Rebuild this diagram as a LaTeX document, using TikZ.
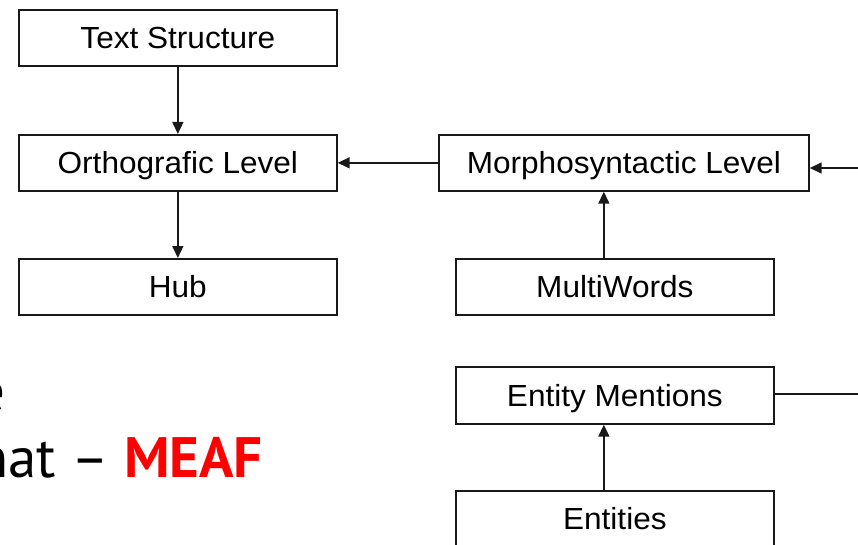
\documentclass[tikz,border=0pt]{standalone}
\usepackage{fontspec}
\setmainfont{Liberation Sans}
\newfontfamily\boxfont[FakeStretch=1.035]{Liberation Sans}
\newfontfamily\bigfont{PT Sans}
\usetikzlibrary{arrows.meta}
\definecolor{boxline}{RGB}{25,25,25}
\definecolor{meafred}{RGB}{255,0,0}
\begin{document}
\begin{tikzpicture}[x=1pt,y=-1pt,
  box/.style={draw=boxline,line width=1.7pt,inner sep=0pt,anchor=north west,
    minimum height=56pt,text height=22pt,text depth=0pt,
    font=\boxfont\fontsize{30.5}{34}\selectfont,text=black},
  conn/.style={draw=boxline,line width=1.5pt,-{Triangle[length=12pt,width=11pt]}},
  plainline/.style={draw=boxline,line width=1.5pt},
  bigtext/.style={font=\bigfont\fontsize{57}{62}\selectfont,inner sep=0pt,anchor=base east}]
\useasboundingbox (0,0) rectangle (858,545);
\clip (0,0) rectangle (858,545);
\fill[white] (0,0) rectangle (858,545);
% left column
\node[box,minimum width=318pt] (ts) at (18,9) {Text Structure};
\node[box,minimum width=318pt] (ol) at (18,134) {Orthografic Level};
\node[box,minimum width=318pt] (hub) at (18,258) {Hub};
% right column
\node[box,minimum width=370pt] (ms) at (438,134) {Morphosyntactic Level};
\node[box,minimum width=318pt] (mw) at (455,258) {MultiWords};
\node[box,minimum width=318pt,minimum height=57pt] (em) at (455,366) {Entity Mentions};
\node[box,minimum width=318pt] (ent) at (455,490) {Entities};
% off-picture ends
\coordinate (inR) at (864,168);
\coordinate (outR) at (864,394);
% connectors
\draw[conn] (ts.south) -- (ol.north);
\draw[conn] (ol.south) -- (hub.north);
\draw[conn] (ms.west) -- (ol.east);
\draw[conn] (inR) -- (inR -| ms.east);
\draw[conn] ([xshift=-11pt]mw.north) -- ([xshift=-11pt]mw.north |- ms.south);
\draw[conn] ([xshift=-11pt]ent.north) -- ([xshift=-11pt]ent.north |- em.south);
\draw[plainline] (em.east |- outR) -- (outR);
% cut-off slide text
\node[bigtext] (etail) at (6,411) {e};
\node[bigtext] (meaf) at (263,477) {nat – \textcolor{meafred}{\bfseries MEAF}};
\end{tikzpicture}
\end{document}
